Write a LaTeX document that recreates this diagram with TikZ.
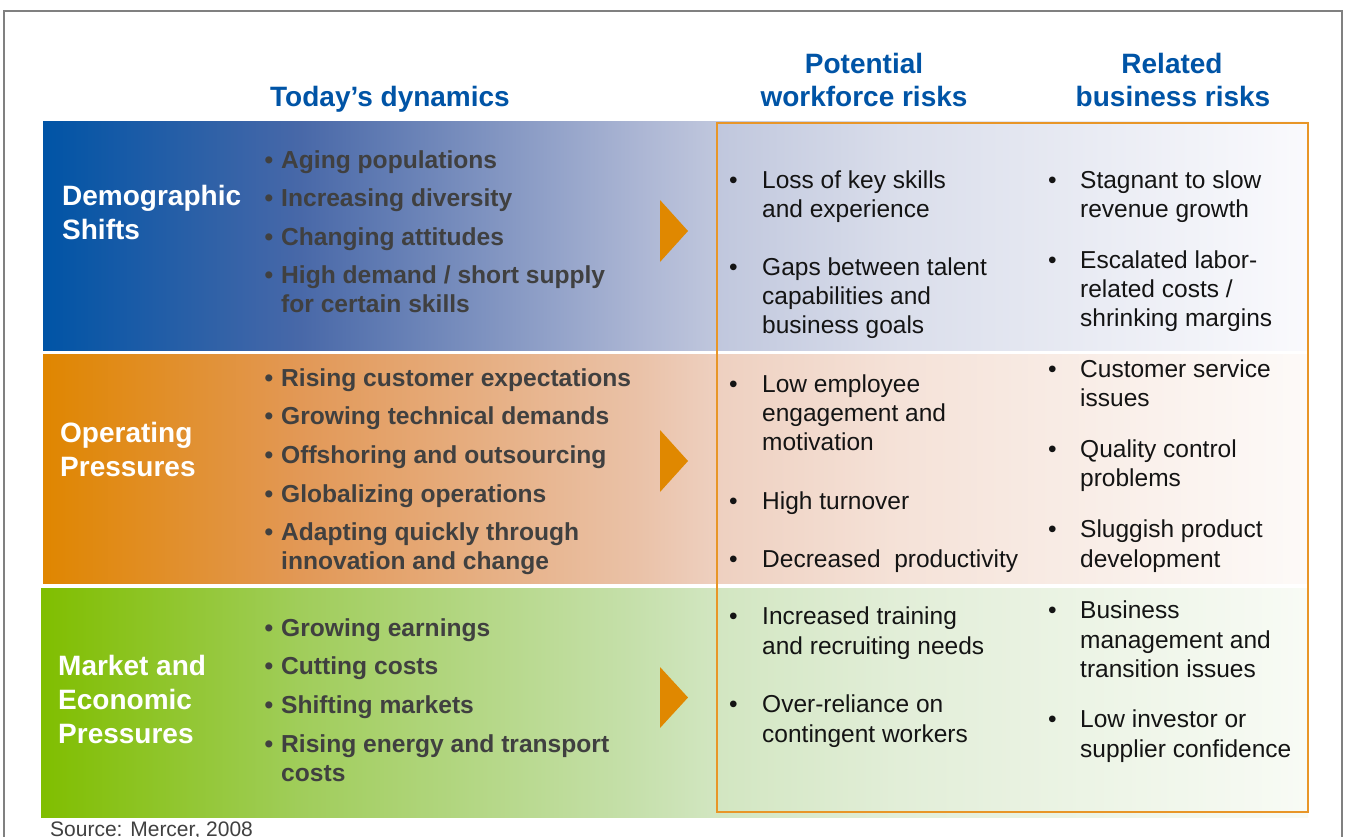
\documentclass[tikz,border=0pt]{standalone}
\usepackage{fontspec}
\setmainfont{Liberation Sans}
\begin{document}
% palette
\definecolor{hdrblue}{RGB}{0,84,166}
\definecolor{dyntext}{RGB}{64,64,64}
\definecolor{risktext}{RGB}{20,20,20}
\definecolor{arroworange}{RGB}{224,136,0}
\definecolor{boxorange}{RGB}{232,150,40}
\definecolor{framegray}{RGB}{128,128,128}
% band gradient stops
\definecolor{bA}{RGB}{0,84,166}
\definecolor{bB}{RGB}{72,104,168}
\definecolor{bC}{RGB}{172,182,212}
\definecolor{bD}{RGB}{192,199,221}
\definecolor{bE}{RGB}{218,222,235}
\definecolor{bF}{RGB}{250,250,253}
\definecolor{oA}{RGB}{224,134,0}
\definecolor{oB}{RGB}{226,152,86}
\definecolor{oC}{RGB}{234,194,168}
\definecolor{oD}{RGB}{238,208,192}
\definecolor{oE}{RGB}{245,226,216}
\definecolor{oF}{RGB}{253,250,248}
\definecolor{gA}{RGB}{128,190,0}
\definecolor{gB}{RGB}{160,205,90}
\definecolor{gC}{RGB}{198,224,172}
\definecolor{gD}{RGB}{210,230,193}
\definecolor{gE}{RGB}{226,238,216}
\definecolor{gF}{RGB}{248,251,245}
\pgfdeclarehorizontalshading{blueband}{100bp}{color(0bp)=(bA); color(25bp)=(bA); color(35.16bp)=(bB); color(48.6bp)=(bC); color(51.64bp)=(bD); color(58.87bp)=(bE); color(75bp)=(bF); color(100bp)=(bF)}
\pgfdeclarehorizontalshading{orangeband}{100bp}{color(0bp)=(oA); color(25bp)=(oA); color(35.16bp)=(oB); color(48.6bp)=(oC); color(51.64bp)=(oD); color(58.87bp)=(oE); color(75bp)=(oF); color(100bp)=(oF)}
\pgfdeclarehorizontalshading{greenband}{100bp}{color(0bp)=(gA); color(25bp)=(gA); color(35.16bp)=(gB); color(48.6bp)=(gC); color(51.64bp)=(gD); color(58.87bp)=(gE); color(75bp)=(gF); color(100bp)=(gF)}
% fonts
\newcommand\hdrfont{\bfseries\fontsize{28}{33}\selectfont}
\newcommand\dynfont{\bfseries\fontsize{24.6}{29}\selectfont}
\newcommand\rskfont{\fontsize{24.5}{29}\selectfont}
\newcommand\srcfont{\fontsize{21}{25}\selectfont}
% bulleted lines: name, baseline, text
\newcommand\dynitem[3]{%
  \node[dyn] (#1) at (281,#2) {#3};
  \node[dyn, anchor=base east] (#1-dot) at ([xshift=-7.5pt]#1.base west) {\textbullet};}
\newcommand\wfitem[3]{%
  \node[rsk] (#1) at (762,#2) {#3};
  \node[rsk, anchor=base east] (#1-dot) at ([xshift=-24pt]#1.base west) {\textbullet};}
\newcommand\bzitem[3]{%
  \node[rsk] (#1) at (1080,#2) {#3};
  \node[rsk, anchor=base east] (#1-dot) at ([xshift=-23pt]#1.base west) {\textbullet};}
\begin{tikzpicture}[x=1pt,y=-1pt,
  hdr/.style={font=\hdrfont, text=hdrblue, inner sep=0pt, anchor=base},
  lbl/.style={font=\hdrfont, text=white, inner sep=0pt, anchor=base west},
  dyn/.style={font=\dynfont, text=dyntext, inner sep=0pt, anchor=base west},
  rsk/.style={font=\rskfont, text=risktext, inner sep=0pt, anchor=base west},
  src/.style={font=\srcfont, text=dyntext, inner sep=0pt, anchor=base west},
  tri/.style={fill=arroworange}]
\useasboundingbox (0,0) rectangle (1346,836);
\clip (0,0) rectangle (1346,836);
\fill[white] (0,0) rectangle (1346,836);

% outer frame (open at the bottom edge)
\draw[framegray, line width=1.5pt] (4,860) -- (4,11) -- (1342,11) -- (1342,860);

% column headings
\node[hdr] (hToday) at (390,106) {Today’s dynamics};
\node[hdr] (hWf1) at (864,73) {Potential};
\node[hdr] (hWf2) at (864,106) {workforce risks};
\node[hdr] (hBz1) at (1172,73) {Related};
\node[hdr] (hBz2) at (1173,106) {business risks};

% shaded bands
\shade[shading=blueband]   (43,121) rectangle (1308,350);
\shade[shading=orangeband] (43,354) rectangle (1308,583);
\shade[shading=greenband]  (41,588) rectangle (1308,817);

% risk panel outline
\draw[boxorange, line width=1.6pt] (717,123) rectangle (1308,812);

% arrows
\fill[tri] (660,200) -- (688,231) -- (660,262) -- cycle;
\fill[tri] (660,430) -- (688,461) -- (660,492) -- cycle;
\fill[tri] (660,667) -- (688,697.5) -- (660,728) -- cycle;

% row labels
\node[lbl] (lDemo1) at (62,205) {Demographic};
\node[lbl] (lDemo2) at (62,239) {Shifts};
\node[lbl] (lOp1) at (60,442) {Operating};
\node[lbl] (lOp2) at (60,476) {Pressures};
\node[lbl] (lMk1) at (58,675) {Market and};
\node[lbl] (lMk2) at (58,709) {Economic};
\node[lbl] (lMk3) at (58,743) {Pressures};

% today's dynamics
\dynitem{dA1}{168}{Aging populations}
\dynitem{dA2}{206}{Increasing diversity}
\dynitem{dA3}{245}{Changing attitudes}
\dynitem{dA4}{283}{High demand / short supply}
\node[dyn] (dA4b) at (281,312) {for certain skills};
\dynitem{dB1}{386}{Rising customer expectations}
\dynitem{dB2}{424}{Growing technical demands}
\dynitem{dB3}{463}{Offshoring and outsourcing}
\dynitem{dB4}{502}{Globalizing operations}
\dynitem{dB5}{540}{Adapting quickly through}
\node[dyn] (dB5b) at (281,569) {innovation and change};
\dynitem{dC1}{636}{Growing earnings}
\dynitem{dC2}{674}{Cutting costs}
\dynitem{dC3}{713}{Shifting markets}
\dynitem{dC4}{752}{Rising energy and transport}
\node[dyn] (dC4b) at (281,781) {costs};

% potential workforce risks
\wfitem{wA1}{188}{Loss of key skills}
\node[rsk] (wA1b) at (762,217) {and experience};
\wfitem{wA2}{275}{Gaps between talent}
\node[rsk] (wA2b) at (762,304) {capabilities and};
\node[rsk] (wA2c) at (762,333) {business goals};
\wfitem{wB1}{392}{Low employee}
\node[rsk] (wB1b) at (762,421) {engagement and};
\node[rsk] (wB1c) at (762,450) {motivation};
\wfitem{wB2}{509}{High turnover}
\wfitem{wB3}{567}{Decreased\ \ productivity}
\wfitem{wC1}{624}{Increased training}
\node[rsk] (wC1b) at (762,654) {and recruiting needs};
\wfitem{wC2}{712}{Over-reliance on}
\node[rsk] (wC2b) at (762,742) {contingent workers};

% related business risks
\bzitem{zA1}{188}{Stagnant to slow}
\node[rsk] (zA1b) at (1080,217) {revenue growth};
\bzitem{zA2}{268}{Escalated labor-}
\node[rsk] (zA2b) at (1080,297) {related costs /};
\node[rsk] (zA2c) at (1080,326) {shrinking margins};
\bzitem{zB1}{377}{Customer service}
\node[rsk] (zB1b) at (1080,406) {issues};
\bzitem{zB2}{457}{Quality control}
\node[rsk] (zB2b) at (1080,486) {problems};
\bzitem{zB3}{537}{Sluggish product}
\node[rsk] (zB3b) at (1080,567) {development};
\bzitem{zC1}{618}{Business}
\node[rsk] (zC1b) at (1080,648) {management and};
\node[rsk] (zC1c) at (1080,677) {transition issues};
\bzitem{zC2}{727}{Low investor or}
\node[rsk] (zC2b) at (1080,757) {supplier confidence};

% source line
\node[src] (source) at (50,836) {Source: Mercer, 2008};
\end{tikzpicture}
\end{document}
